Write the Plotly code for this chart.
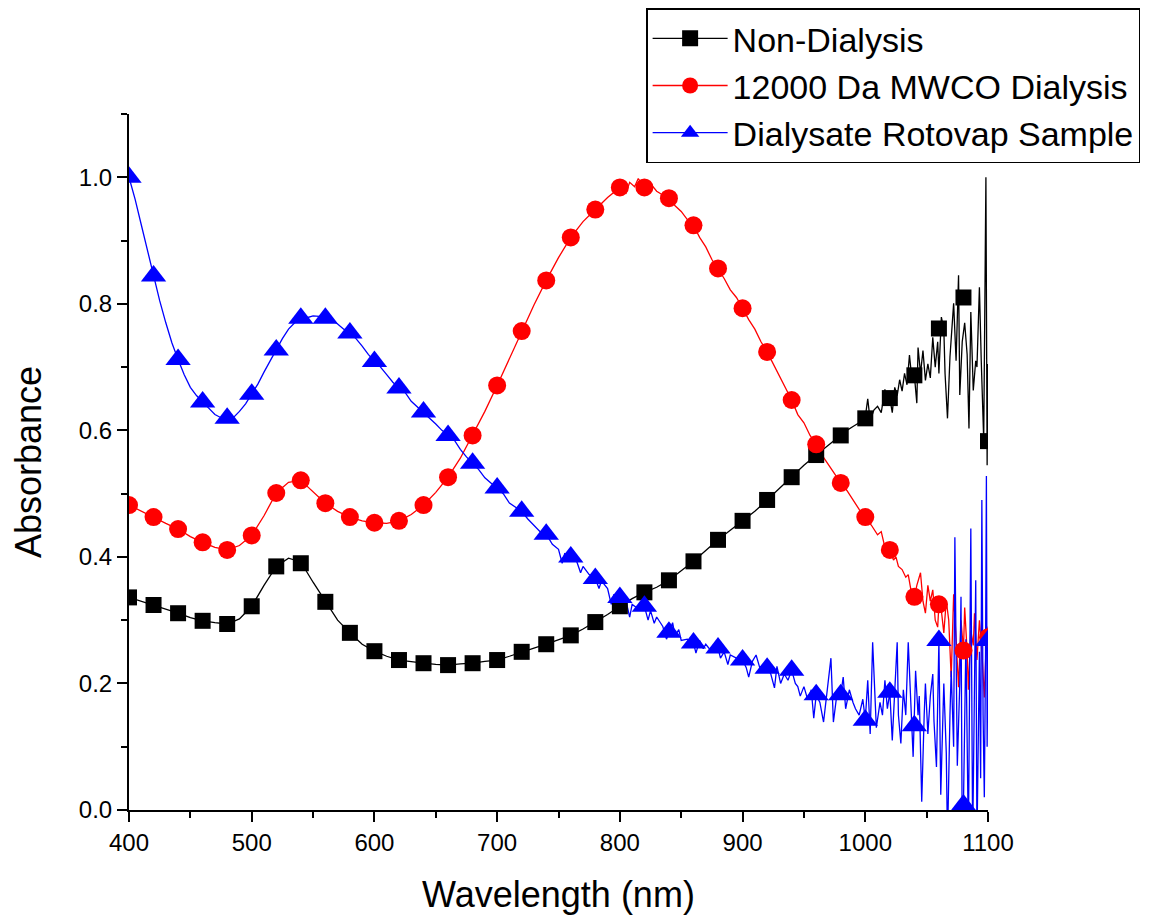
import plotly.graph_objects as go

# ---------------- data ----------------
series_names = ["Non-Dialysis", "12000 Da MWCO Dialysis", "Dialysate Rotovap Sample"]

marker_wl = [400, 420, 440, 460, 480, 500, 520, 540, 560, 580, 600, 620, 640, 660, 680, 700,
             720, 740, 760, 780, 800, 820, 840, 860, 880, 900, 920, 940, 960, 980, 1000, 1020,
             1040, 1060, 1080, 1100]

nondialysis_markers = [0.336, 0.324, 0.311, 0.299, 0.294, 0.322, 0.385, 0.390, 0.329, 0.280, 0.251,
                       0.237, 0.232, 0.229, 0.232, 0.237, 0.250, 0.262, 0.276, 0.297, 0.322, 0.344,
                       0.363, 0.393, 0.427, 0.457, 0.490, 0.526, 0.561, 0.592, 0.619, 0.651, 0.687,
                       0.761, 0.810, 0.583]

dialysis_markers = [0.482, 0.463, 0.444, 0.423, 0.411, 0.434, 0.501, 0.521, 0.485, 0.463, 0.454,
                    0.457, 0.482, 0.526, 0.592, 0.671, 0.757, 0.837, 0.905, 0.949, 0.984, 0.984,
                    0.967, 0.924, 0.856, 0.793, 0.724, 0.648, 0.578, 0.517, 0.463, 0.411, 0.337,
                    0.325, 0.252, 0.273]

dialysate_markers = [1.000, 0.844, 0.712, 0.645, 0.619, 0.657, 0.727, 0.777, 0.777, 0.754, 0.709,
                     0.667, 0.629, 0.592, 0.548, 0.509, 0.472, 0.436, 0.400, 0.366, 0.336, 0.322,
                     0.281, 0.264, 0.256, 0.237, 0.224, 0.221, 0.182, 0.182, 0.142, 0.186, 0.133,
                     0.268, 0.008, 0.268]

# continuous spectra
nondialysis_wl = [400, 410, 420, 430, 440, 450, 460, 470, 480, 490, 500, 510, 520, 530, 540, 550,
                  560, 570, 580, 590, 600, 610, 620, 630, 640, 650, 660, 670, 680, 690, 700, 710,
                  720, 730, 740, 750, 760, 770, 780, 790, 800, 810, 820, 830, 840, 850, 860, 870,
                  880, 890, 900, 910, 920, 930, 940, 950, 960, 970, 980, 985, 990, 995, 1000,
                  1002, 1004, 1007, 1010, 1013, 1016, 1018, 1020, 1022, 1024, 1026, 1028, 1030,
                  1032, 1034, 1036, 1038, 1040, 1042, 1043, 1045, 1047, 1049, 1051, 1053, 1055,
                  1057, 1059, 1060, 1062, 1064, 1065, 1067, 1069, 1072, 1074, 1076, 1077, 1079,
                  1081, 1083, 1084.5, 1086, 1088, 1090, 1091, 1093, 1094.5, 1096.5, 1098.3,
                  1099.3, 1099.7, 1100]
nondialysis_abs = [0.336, 0.330, 0.324, 0.317, 0.311, 0.304, 0.299, 0.296, 0.294, 0.302, 0.322,
                   0.355, 0.385, 0.398, 0.392, 0.360, 0.329, 0.300, 0.280, 0.262, 0.251, 0.243,
                   0.237, 0.234, 0.232, 0.230, 0.229, 0.231, 0.232, 0.235, 0.237, 0.243, 0.250,
                   0.256, 0.262, 0.269, 0.276, 0.286, 0.297, 0.309, 0.322, 0.334, 0.344, 0.352,
                   0.363, 0.378, 0.393, 0.410, 0.427, 0.442, 0.457, 0.472, 0.490, 0.508, 0.526,
                   0.545, 0.561, 0.577, 0.592, 0.600, 0.606, 0.612, 0.621, 0.650, 0.615, 0.632,
                   0.638, 0.628, 0.665, 0.640, 0.651, 0.628, 0.668, 0.655, 0.680, 0.662, 0.690,
                   0.672, 0.719, 0.680, 0.687, 0.643, 0.731, 0.690, 0.726, 0.679, 0.705, 0.683,
                   0.747, 0.700, 0.740, 0.690, 0.779, 0.760, 0.690, 0.619, 0.716, 0.801, 0.710,
                   0.845, 0.656, 0.740, 0.770, 0.720, 0.603, 0.787, 0.663, 0.710, 0.700, 0.826,
                   0.710, 0.585, 1.000, 0.545, 0.705, 0.585]

dialysis_wl = [400, 410, 420, 430, 440, 450, 460, 470, 480, 490, 500, 510, 520, 530, 540, 550, 560,
               570, 580, 590, 600, 610, 620, 630, 640, 650, 660, 670, 680, 690, 700, 710, 720, 730,
               740, 750, 760, 770, 780, 790, 800, 805, 808, 812, 815, 820, 825, 830, 835, 840, 845,
               850, 855, 860, 865, 870, 875, 880, 885, 890, 895, 900, 905, 910, 915, 920, 925, 930,
               935, 940, 945, 950, 955, 960, 965, 970, 975, 980, 985, 990, 995, 1000, 1005, 1010,
               1013, 1016, 1020, 1023, 1025, 1027, 1030, 1033, 1035, 1037, 1040, 1042, 1045, 1047,
               1049, 1051, 1053, 1055, 1057, 1059, 1060, 1062, 1064, 1066, 1068, 1070, 1072, 1074,
               1076, 1078, 1080, 1081, 1083, 1084, 1086, 1088, 1089, 1091, 1093, 1095, 1097, 1099,
               1100]
dialysis_abs = [0.482, 0.472, 0.463, 0.453, 0.444, 0.432, 0.423, 0.415, 0.411, 0.418, 0.434, 0.465,
                0.501, 0.518, 0.521, 0.503, 0.485, 0.472, 0.463, 0.457, 0.454, 0.453, 0.457, 0.467,
                0.482, 0.502, 0.526, 0.556, 0.592, 0.630, 0.671, 0.714, 0.757, 0.798, 0.837, 0.873,
                0.905, 0.930, 0.949, 0.968, 0.984, 0.975, 0.992, 0.985, 0.998, 0.984, 0.990, 0.978,
                0.972, 0.967, 0.955, 0.946, 0.933, 0.924, 0.905, 0.890, 0.870, 0.856, 0.840, 0.822,
                0.810, 0.793, 0.775, 0.760, 0.740, 0.724, 0.705, 0.685, 0.665, 0.648, 0.625, 0.612,
                0.592, 0.578, 0.560, 0.545, 0.530, 0.517, 0.505, 0.490, 0.475, 0.463, 0.450, 0.435,
                0.440, 0.415, 0.411, 0.395, 0.400, 0.385, 0.380, 0.368, 0.372, 0.350, 0.337, 0.355,
                0.375, 0.330, 0.311, 0.355, 0.330, 0.348, 0.300, 0.289, 0.325, 0.315, 0.280, 0.331,
                0.300, 0.210, 0.341, 0.270, 0.194, 0.300, 0.252, 0.320, 0.250, 0.190, 0.284, 0.260,
                0.311, 0.237, 0.300, 0.250, 0.178, 0.290, 0.273]

dialysate_wl = [400, 405, 410, 415, 420, 425, 430, 435, 440, 445, 450, 455, 460, 465, 470, 475, 480,
                485, 490, 495, 500, 505, 510, 515, 520, 525, 530, 535, 540, 545, 550, 555, 560, 565,
                570, 575, 580, 585, 590, 595, 600, 605, 610, 615, 620, 625, 630, 635, 640, 645, 650,
                655, 660, 665, 670, 675, 680, 685, 690, 695, 700, 705, 710, 715, 720, 725, 730, 735,
                740, 745, 750, 753, 755, 760, 765, 768, 770, 775, 780, 783, 785, 790, 793, 795, 800,
                803, 805, 808, 810, 815, 820, 823, 825, 828, 830, 835, 838, 840, 843, 845, 848, 850,
                855, 860, 862, 865, 868, 870, 875, 880, 882, 885, 888, 890, 895, 900, 903, 905, 908,
                911, 914, 917, 920, 923, 926, 928, 931, 934, 937, 940, 943, 945, 947, 950, 953, 956,
                958, 960, 963, 966, 969, 972, 974, 977, 980, 982, 984, 987, 990, 992, 995, 998, 1000,
                1002, 1004, 1006, 1009, 1012, 1014, 1016, 1018, 1020, 1022, 1024, 1026, 1027, 1029,
                1031, 1033, 1035, 1037, 1039, 1041, 1043, 1044, 1046, 1048, 1049, 1051, 1053, 1055,
                1056, 1058, 1060, 1061.5, 1063, 1064, 1066, 1067, 1069, 1070, 1072, 1073, 1075,
                1077, 1078, 1079, 1080, 1081, 1082, 1084, 1085, 1086, 1087.5, 1089, 1090, 1091,
                1092, 1093, 1094, 1095, 1096, 1097, 1098, 1098.7, 1099.3, 1100]
dialysate_abs = [1.000, 0.965, 0.925, 0.885, 0.844, 0.805, 0.770, 0.738, 0.712, 0.688, 0.668, 0.655,
                 0.645, 0.635, 0.625, 0.620, 0.619, 0.620, 0.630, 0.642, 0.657, 0.673, 0.692, 0.710,
                 0.727, 0.745, 0.760, 0.770, 0.777, 0.778, 0.781, 0.780, 0.777, 0.775, 0.768, 0.760,
                 0.754, 0.745, 0.733, 0.720, 0.709, 0.700, 0.688, 0.676, 0.667, 0.660, 0.646, 0.637,
                 0.629, 0.620, 0.610, 0.600, 0.592, 0.585, 0.570, 0.558, 0.548, 0.538, 0.525, 0.517,
                 0.509, 0.500, 0.485, 0.478, 0.472, 0.460, 0.450, 0.440, 0.436, 0.420, 0.412, 0.390,
                 0.405, 0.400, 0.392, 0.375, 0.385, 0.372, 0.366, 0.350, 0.362, 0.350, 0.325, 0.340,
                 0.336, 0.320, 0.330, 0.305, 0.325, 0.318, 0.322, 0.300, 0.315, 0.295, 0.305, 0.290,
                 0.270, 0.281, 0.296, 0.275, 0.285, 0.268, 0.270, 0.264, 0.248, 0.268, 0.255, 0.262,
                 0.250, 0.256, 0.240, 0.250, 0.230, 0.245, 0.240, 0.237, 0.225, 0.210, 0.235, 0.245,
                 0.225, 0.230, 0.224, 0.215, 0.193, 0.227, 0.200, 0.215, 0.205, 0.221, 0.200, 0.195,
                 0.180, 0.195, 0.175, 0.190, 0.145, 0.182, 0.170, 0.139, 0.190, 0.240, 0.139, 0.185,
                 0.182, 0.210, 0.160, 0.190, 0.170, 0.160, 0.150, 0.175, 0.142, 0.205, 0.120, 0.265,
                 0.130, 0.170, 0.150, 0.205, 0.160, 0.186, 0.110, 0.180, 0.265, 0.150, 0.105, 0.190,
                 0.150, 0.265, 0.160, 0.084, 0.220, 0.150, 0.180, 0.013, 0.150, 0.200, 0.120, 0.180,
                 0.215, 0.140, 0.068, 0.268, 0.024, 0.150, 0.200, 0.090, -0.050, 0.150, 0.220, 0.100,
                 0.431, 0.070, 0.200, 0.337, -0.050, 0.008, 0.120, 0.270, -0.050, 0.200, 0.445, -0.050,
                 0.150, 0.363, -0.050, 0.100, 0.250, 0.050, 0.490, 0.150, 0.020, 0.250, 0.528, 0.100,
                 0.270]

x_ticks = [400, 500, 600, 700, 800, 900, 1000, 1100]
y_ticks = [0.0, 0.2, 0.4, 0.6, 0.8, 1.0]
y_tick_labels = ["0.0", "0.2", "0.4", "0.6", "0.8", "1.0"]

colors = ["#000000", "#FF0000", "#0000FF"]
symbols = ["square", "circle", "triangle-up"]
msizes = [16, 18, 22]

lines = [(nondialysis_wl, nondialysis_abs), (dialysis_wl, dialysis_abs), (dialysate_wl, dialysate_abs)]
marks = [nondialysis_markers, dialysis_markers, dialysate_markers]

fig = go.Figure()
for i in range(3):
    lx, ly = lines[i]
    fig.add_trace(go.Scatter(x=lx, y=ly, mode="lines", line=dict(color=colors[i], width=1.3),
                             showlegend=False, hoverinfo="skip"))
for i in range(3):
    fig.add_trace(go.Scatter(x=marker_wl, y=marks[i], mode="markers",
                             marker=dict(color=colors[i], symbol=symbols[i], size=msizes[i]),
                             showlegend=False))
for i in range(3):
    fig.add_trace(go.Scatter(x=[None], y=[None], mode="lines+markers", name=series_names[i],
                             line=dict(color=colors[i], width=1.3),
                             marker=dict(color=colors[i], symbol=symbols[i], size=msizes[i])))

fig.update_layout(
    width=1148, height=915,
    margin=dict(l=121, r=168, t=106, b=113, autoexpand=False),
    paper_bgcolor="white", plot_bgcolor="white",
    font=dict(family="Liberation Sans, Arial", color="black"),
    legend=dict(x=0.602, y=1.152, xanchor="left", yanchor="top",
                bgcolor="white", bordercolor="black", borderwidth=1.5,
                font=dict(size=34, family="Liberation Sans, Arial"),
                itemwidth=75, tracegroupgap=0),
    xaxis=dict(range=[400, 1100], tickvals=x_ticks, ticks="outside", ticklen=10, tickwidth=2,
               tickcolor="black", showline=True, linecolor="black", linewidth=2,
               showgrid=False, zeroline=False,
               minor=dict(dtick=50, ticks="outside", ticklen=6, tickwidth=2, tickcolor="black"),
               tickfont=dict(size=24, family="Liberation Sans, Arial"),
               title=dict(text="Wavelength (nm)", font=dict(size=36, family="Liberation Sans, Arial"),
                          standoff=27)),
    yaxis=dict(range=[0, 1.1], tickvals=y_ticks, ticktext=y_tick_labels, ticks="outside",
               ticklen=10, tickwidth=2, tickcolor="black", showline=True, linecolor="black",
               linewidth=2, showgrid=False, zeroline=False,
               minor=dict(dtick=0.1, ticks="outside", ticklen=6, tickwidth=2, tickcolor="black"),
               tickfont=dict(size=24, family="Liberation Sans, Arial"),
               title=dict(text="Absorbance", font=dict(size=36, family="Liberation Sans, Arial"),
                          standoff=28)),
)

fig.write_html("out.html")
